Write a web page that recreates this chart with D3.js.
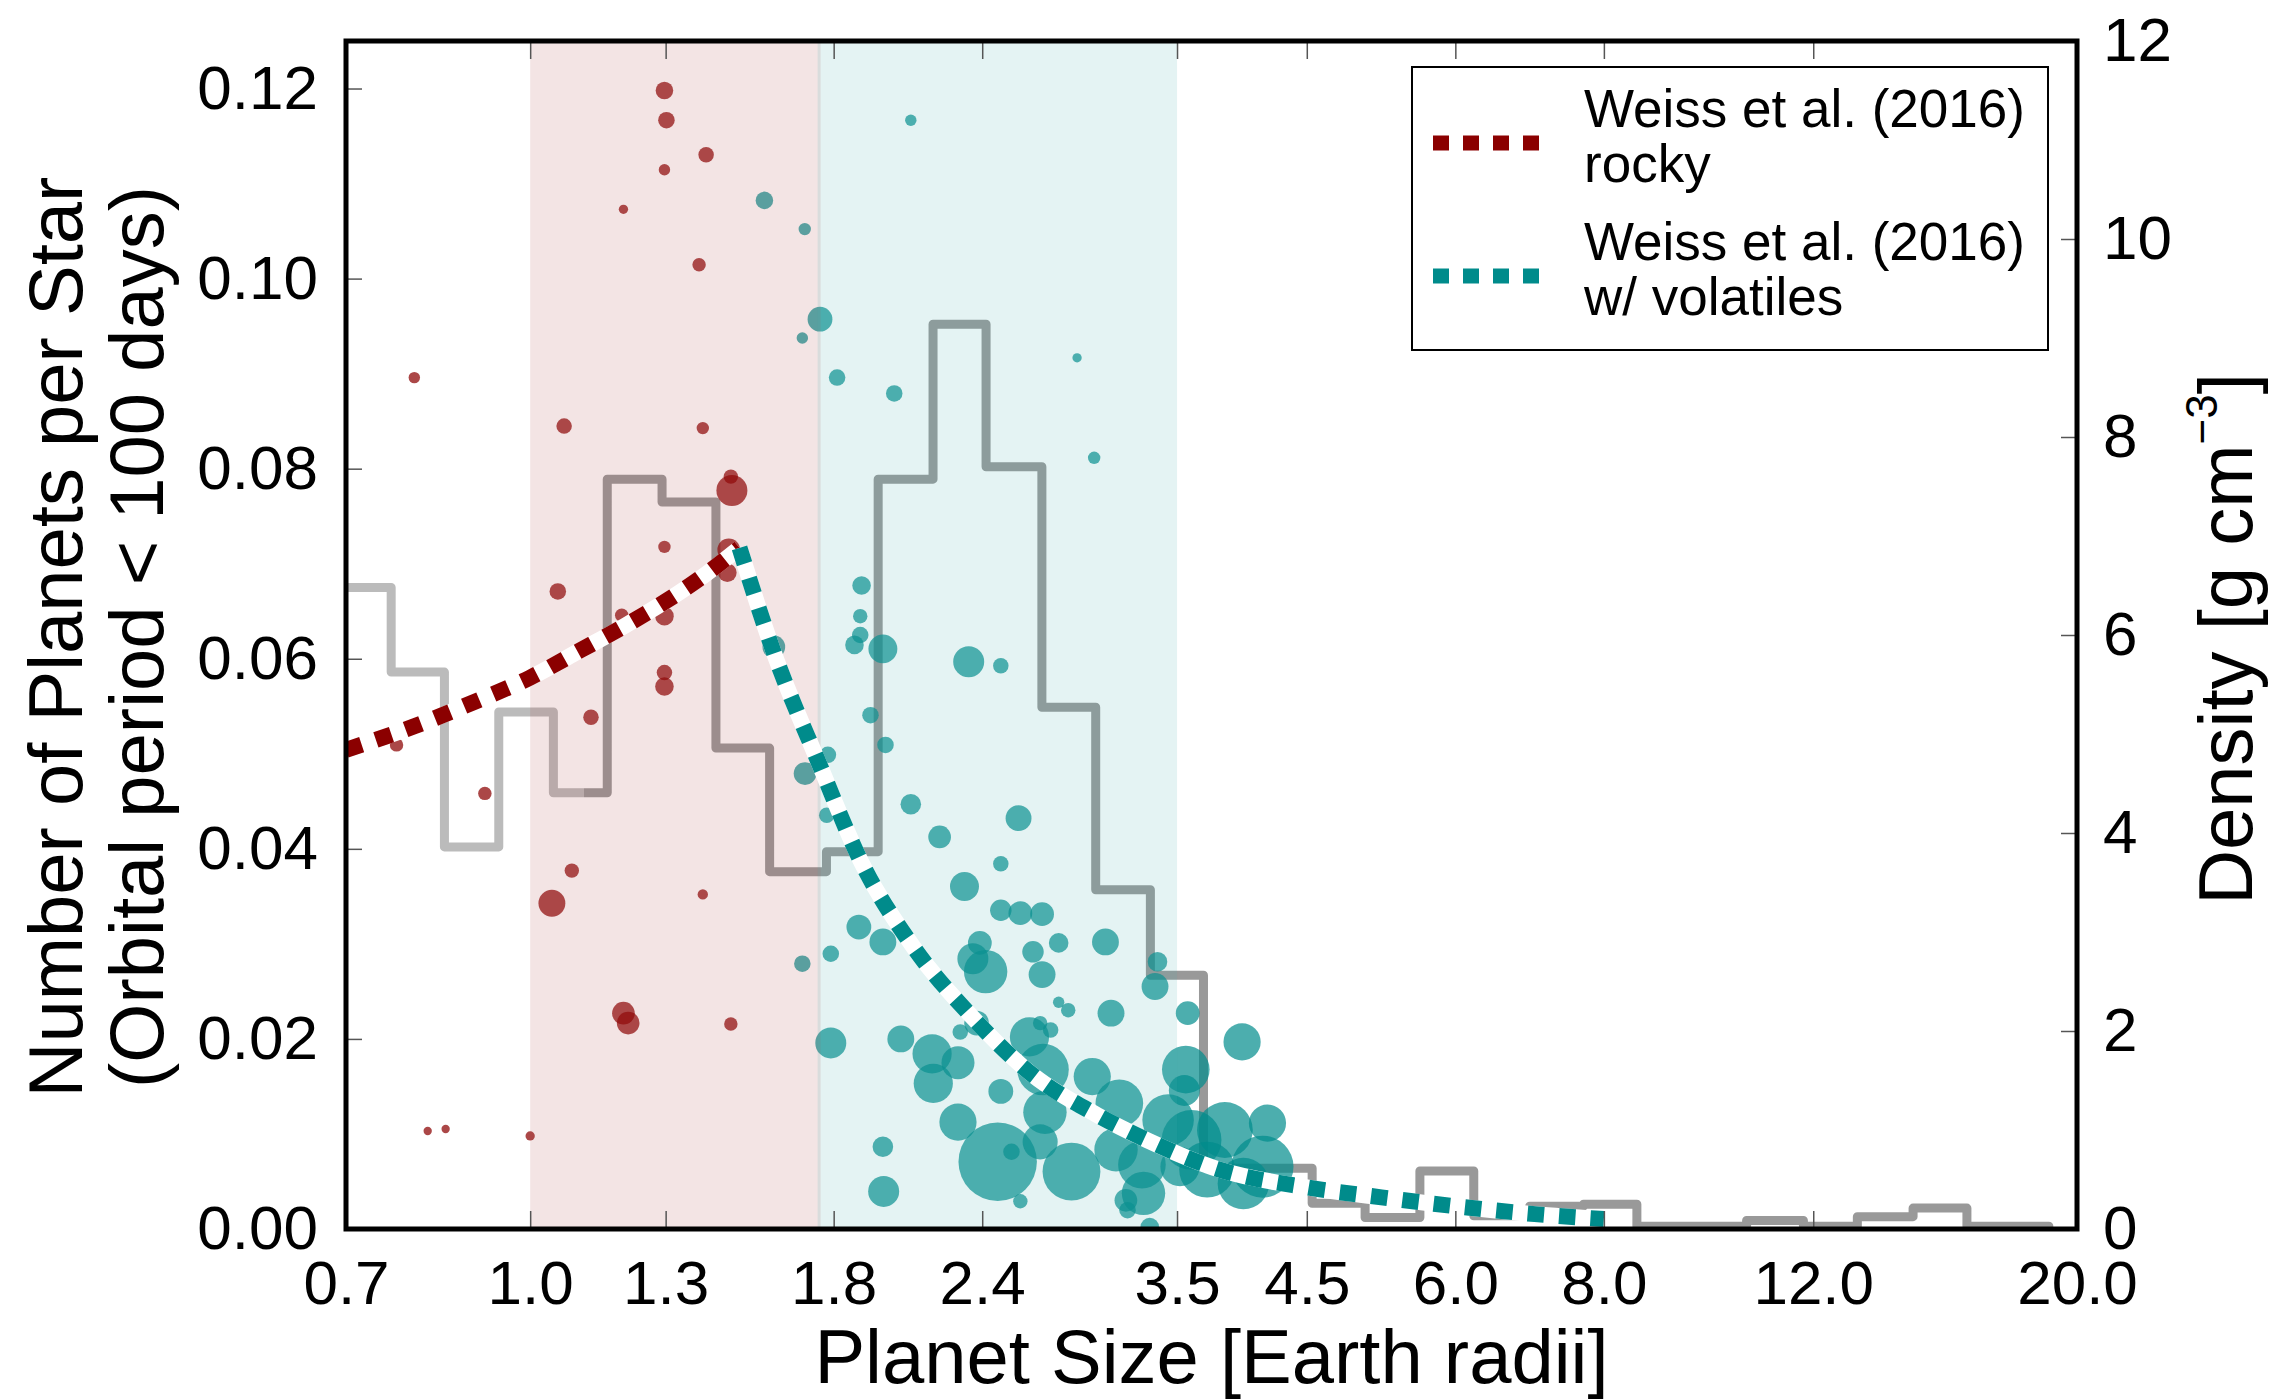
<!DOCTYPE html>
<html>
<head>
<meta charset="utf-8">
<script src="https://cdn.jsdelivr.net/npm/d3@7"></script>
<style>
  body { margin: 0; background: #fff; }
  text { font-family: "Liberation Sans", Arial, Helvetica, sans-serif; }
</style>
</head>
<body>
<div id="chart"></div>
<script>
// ---- data ----
var xTicks = [0.7, 1.0, 1.3, 1.8, 2.4, 3.5, 4.5, 6.0, 8.0, 12.0, 20.0];
var rateTicks = [0, 0.02, 0.04, 0.06, 0.08, 0.10, 0.12];
var densityTicks = [0, 2, 4, 6, 8, 10, 12];

// occurrence histogram (planets per star), bin edges in Earth radii
var binEdges = [0.7, 0.764, 0.847, 0.941, 1.046, 1.161, 1.291, 1.433, 1.590, 1.775, 1.962,
                2.182, 2.418, 2.694, 2.990, 3.324, 3.684, 4.089, 4.547, 5.038, 5.602,
                6.218, 6.929, 7.691, 8.528, 9.466, 10.547, 11.774, 13.07, 14.56, 16.16, 17.94, 18.94];
var binRates = [0.0675, 0.0586, 0.0402, 0.0544, 0.0459, 0.0789, 0.0765, 0.0506, 0.0376, 0.0397,
                0.0789, 0.0952, 0.0802, 0.0549, 0.0357, 0.0267, 0.0064, 0.0064, 0.0027, 0.0012,
                0.0061, 0.0014, 0.0024, 0.0026, 0.0003, 0.0003, 0.0009, 0.0003, 0.0013, 0.0022,
                0.0003, 0.0003];
var faintBelow = 1.11;

// Weiss et al. (2016) density relations [g cm^-3]
var rockyRadius  = [0.70, 0.80, 0.90, 1.00, 1.10, 1.20, 1.30, 1.40, 1.50];
var rockyDensity = [4.84, 5.08, 5.33, 5.57, 5.84, 6.09, 6.34, 6.60, 6.88];
var volRadius  = [1.50, 1.60, 1.75, 1.90, 2.10, 2.35, 2.65, 3.00, 3.30, 3.80, 4.50, 5.20, 6.00, 7.00, 8.00];
var volDensity = [6.88, 5.85, 4.70, 3.70, 2.85, 2.15, 1.55, 1.15, 0.90, 0.60, 0.42, 0.32, 0.23, 0.15, 0.10];

// shaded size ranges
var rockyBand = [1.0, 1.755];
var volatileBand = [1.745, 3.5];

// planets: [radius, density, weight]
var rockyPlanets = [
  [1.297, 11.50, 8], [1.302, 11.20, 7.1], [1.406, 10.85, 6.25], [1.297, 10.70, 3.4],
  [1.198, 10.30, 2.25], [1.387, 9.74, 4.7], [0.799, 8.60, 3.4], [1.068, 8.11, 6.25],
  [1.397, 8.09, 4], [1.475, 7.60, 5.4], [1.478, 7.46, 25], [1.297, 6.89, 4],
  [1.469, 6.86, 13.4], [1.465, 6.63, 9], [1.055, 6.44, 7.1], [1.194, 6.20, 4.7],
  [1.297, 6.19, 9], [1.297, 5.62, 6.25], [1.297, 5.48, 9], [1.125, 5.17, 6.25],
  [0.772, 4.89, 4.7], [0.916, 4.40, 4.7], [1.084, 3.62, 5.4], [1.043, 3.29, 18.8],
  [1.397, 3.38, 2.8], [1.198, 2.18, 13.4], [1.209, 2.08, 13.4], [1.475, 2.07, 4.7],
  [0.820, 0.99, 1.8], [0.849, 1.01, 1.8], [1.000, 0.94, 2.25]
];
var volatilePlanets = [
  [1.574, 10.39, 8], [1.702, 10.10, 4], [1.753, 9.19, 16], [1.694, 9.00, 3.4],
  [1.812, 8.60, 7.1], [2.024, 8.44, 7.1], [2.090, 11.20, 3.4], [2.884, 8.80, 2.25],
  [1.603, 5.88, 13.4], [1.703, 4.60, 13.4], [1.780, 4.79, 7.1], [1.776, 4.18, 6.25],
  [1.900, 6.50, 9], [1.895, 6.19, 5.4], [1.895, 6.00, 7.1], [1.874, 5.90, 9],
  [1.980, 5.86, 21.8], [1.933, 5.19, 7.1], [1.990, 4.89, 7.1], [2.338, 5.73, 25],
  [2.488, 5.69, 6.25], [2.981, 7.79, 4], [2.090, 4.29, 11], [2.210, 3.96, 13.4],
  [2.575, 4.15, 17.4], [2.488, 3.69, 6.25], [1.694, 2.68, 7.1], [1.790, 2.78, 7.1],
  [1.890, 3.05, 16], [1.980, 2.90, 18.8], [1.790, 1.88, 25], [1.980, 0.83, 11],
  [1.983, 0.38, 25], [2.319, 3.46, 21.8], [2.488, 3.22, 12], [2.584, 3.19, 14.7],
  [2.695, 3.18, 14.7], [3.047, 2.90, 18.8], [2.783, 2.89, 10], [2.648, 2.80, 12],
  [2.389, 2.89, 14.7], [2.357, 2.73, 25], [2.416, 2.60, 49], [2.695, 2.57, 18.8],
  [3.370, 2.70, 10], [3.354, 2.45, 18.8], [3.573, 2.18, 14.7], [3.080, 2.18, 18.8],
  [2.783, 2.29, 3.4], [2.835, 2.21, 5.4], [3.970, 1.89, 36], [3.560, 1.61, 59],
  [2.050, 1.92, 18.8], [2.178, 1.77, 40], [2.290, 1.68, 28.4], [2.183, 1.47, 40],
  [2.374, 2.08, 16], [2.300, 1.99, 6.25], [2.630, 1.94, 40], [2.685, 2.08, 5.4],
  [2.740, 2.01, 6.25], [2.700, 1.61, 69], [2.488, 1.39, 16], [2.970, 1.54, 36],
  [2.710, 1.18, 49], [2.290, 1.08, 36], [2.473, 0.68, 160], [2.540, 0.78, 7.1],
  [2.685, 0.88, 32], [2.853, 0.58, 87], [2.584, 0.28, 5.4], [3.130, 1.27, 59],
  [3.110, 0.80, 49], [3.270, 0.65, 59], [3.280, 0.36, 49], [3.170, 0.29, 13.4],
  [3.180, 0.19, 7.1], [3.320, 0.02, 9], [3.440, 1.10, 69], [3.550, 1.40, 25],
  [3.520, 0.63, 40], [3.600, 0.90, 93], [3.840, 1.00, 81], [4.170, 1.07, 36],
  [4.130, 0.63, 100], [3.980, 0.46, 69], [3.710, 0.60, 81]
];

// ---- layout ----
var width = 2290, height = 1399;
var plotL = 346, plotR = 2077, plotT = 41, plotB = 1229;
var fontFamily = "Liberation Sans, Arial, Helvetica, sans-serif";
var red = "#8b0000", teal = "#008b8b";

var svg = d3.select("#chart").append("svg")
    .attr("width", width)
    .attr("height", height);

var x = d3.scaleLog().domain([0.7, 20]).range([plotL, plotR]);
var yRate = d3.scaleLinear().domain([0, 0.125]).range([plotB, plotT]);
var yDens = d3.scaleLinear().domain([0, 12]).range([plotB, plotT]);
var size = d3.scaleSqrt().domain([0, 100]).range([0, 31]);

var defs = svg.append("defs");
defs.append("clipPath").attr("id", "plot").append("rect")
    .attr("x", plotL).attr("y", plotT).attr("width", plotR - plotL).attr("height", plotB - plotT);
defs.append("clipPath").attr("id", "faint").append("rect")
    .attr("x", 0).attr("y", 0).attr("width", x(faintBelow)).attr("height", height);
defs.append("clipPath").attr("id", "solid").append("rect")
    .attr("x", x(faintBelow)).attr("y", 0).attr("width", width).attr("height", height);

var g = svg.append("g").attr("clip-path", "url(#plot)");

// histogram
var histPts = binRates.map(function(v, i) { return [binEdges[i], v]; });
histPts.push([binEdges[binEdges.length - 1], binRates[binRates.length - 1]]);
var histLine = d3.line()
    .x(function(d) { return x(d[0]); })
    .y(function(d) { return yRate(d[1]); })
    .curve(d3.curveStepAfter);

g.append("path").datum(histPts)
    .attr("d", histLine)
    .attr("clip-path", "url(#faint)")
    .attr("fill", "none").attr("stroke", "#bbbbbb")
    .attr("stroke-width", 9).attr("stroke-linejoin", "round").attr("stroke-linecap", "round");
g.append("path").datum(histPts)
    .attr("d", histLine)
    .attr("clip-path", "url(#solid)")
    .attr("fill", "none").attr("stroke", "#999999")
    .attr("stroke-width", 9).attr("stroke-linejoin", "round").attr("stroke-linecap", "round");

// planets
g.selectAll("circle.rocky").data(rockyPlanets).enter()
    .append("circle").attr("class", "rocky")
    .attr("cx", function(d) { return x(d[0]); })
    .attr("cy", function(d) { return yDens(d[1]); })
    .attr("r", function(d) { return size(d[2]); })
    .attr("fill", red).attr("fill-opacity", 0.72);
g.selectAll("circle.vol").data(volatilePlanets).enter()
    .append("circle").attr("class", "vol")
    .attr("cx", function(d) { return x(d[0]); })
    .attr("cy", function(d) { return yDens(d[1]); })
    .attr("r", function(d) { return size(d[2]); })
    .attr("fill", teal).attr("fill-opacity", 0.7);

// shaded bands
g.append("rect")
    .attr("x", x(rockyBand[0])).attr("y", plotT)
    .attr("width", x(rockyBand[1]) - x(rockyBand[0])).attr("height", plotB - plotT)
    .attr("fill", "rgb(175,75,75)").attr("fill-opacity", 0.15);
g.append("rect")
    .attr("x", x(volatileBand[0])).attr("y", plotT)
    .attr("width", x(volatileBand[1]) - x(volatileBand[0])).attr("height", plotB - plotT)
    .attr("fill", "rgb(75,175,175)").attr("fill-opacity", 0.15);

// density relations
var densLine = d3.line()
    .x(function(d) { return x(d[0]); })
    .y(function(d) { return yDens(d[1]); })
    .curve(d3.curveMonotoneX);
var rockyCurve = rockyRadius.map(function(r, i) { return [r, rockyDensity[i]]; });
var volCurve = volRadius.map(function(r, i) { return [r, volDensity[i]]; });

function dotted(data, color) {
  g.append("path").datum(data).attr("d", densLine)
      .attr("fill", "none").attr("stroke", "#fff").attr("stroke-width", 16);
  g.append("path").datum(data).attr("d", densLine)
      .attr("fill", "none").attr("stroke", color).attr("stroke-width", 16)
      .attr("stroke-dasharray", "16.5 15");
}
dotted(rockyCurve, red);
dotted(volCurve, teal);

// legend
var lg = svg.append("g");
lg.append("rect")
    .attr("x", 1412).attr("y", 67).attr("width", 636).attr("height", 283)
    .attr("fill", "#fff").attr("stroke", "#000").attr("stroke-width", 2);
var legendItems = [
  {color: red, lines: ["Weiss et al. (2016)", "rocky"], y: 143, base: 127},
  {color: teal, lines: ["Weiss et al. (2016)", "w/ volatiles"], y: 276, base: 260}
];
legendItems.forEach(function(it) {
  lg.append("line")
      .attr("x1", 1433).attr("x2", 1541).attr("y1", it.y).attr("y2", it.y)
      .attr("stroke", it.color).attr("stroke-width", 15).attr("stroke-dasharray", "16 14");
  it.lines.forEach(function(t, j) {
    lg.append("text")
        .attr("x", 1584).attr("y", it.base + j * 55)
        .attr("font-size", 53).attr("fill", "#000")
        .text(t);
  });
});

// axes
function styleAxis(sel) {
  sel.attr("font-size", 62).attr("font-family", fontFamily);
  sel.select(".domain").remove();
  sel.selectAll("line").attr("stroke", "#555").attr("stroke-width", 1.5);
  sel.selectAll("text").attr("fill", "#000");
}
svg.append("g").attr("transform", "translate(0," + plotB + ")")
    .call(d3.axisBottom(x).tickValues(xTicks).tickFormat(d3.format(".1f"))
        .tickSizeInner(-18).tickSizeOuter(0).tickPadding(31))
    .call(styleAxis);
svg.append("g").attr("transform", "translate(0," + plotT + ")")
    .call(d3.axisTop(x).tickValues(xTicks).tickFormat("")
        .tickSizeInner(-18).tickSizeOuter(0))
    .call(styleAxis);
svg.append("g").attr("transform", "translate(" + plotL + ",0)")
    .call(d3.axisLeft(yRate).tickValues(rateTicks).tickFormat(d3.format(".2f"))
        .tickSizeInner(-16).tickSizeOuter(0).tickPadding(28))
    .call(styleAxis);
svg.append("g").attr("transform", "translate(" + plotR + ",0)")
    .call(d3.axisRight(yDens).tickValues(densityTicks).tickFormat(d3.format("d"))
        .tickSizeInner(-16).tickSizeOuter(0).tickPadding(26))
    .call(styleAxis);

// frame
svg.append("rect")
    .attr("x", plotL).attr("y", plotT).attr("width", plotR - plotL).attr("height", plotB - plotT)
    .attr("fill", "none").attr("stroke", "#000").attr("stroke-width", 5);

// axis titles
svg.append("text")
    .attr("x", (plotL + plotR) / 2).attr("y", 1383)
    .attr("text-anchor", "middle").attr("font-size", 76)
    .text("Planet Size [Earth radii]");
svg.append("text")
    .attr("transform", "translate(82,637) rotate(-90)")
    .attr("text-anchor", "middle").attr("font-size", 76)
    .text("Number of Planets per Star");
svg.append("text")
    .attr("transform", "translate(163,637) rotate(-90)")
    .attr("text-anchor", "middle").attr("font-size", 76)
    .text("(Orbital period < 100 days)");
var densLabel = svg.append("text")
    .attr("transform", "translate(2252,639) rotate(-90)")
    .attr("text-anchor", "middle").attr("font-size", 76);
densLabel.append("tspan").text("Density [g cm");
densLabel.append("tspan").attr("dy", -35).attr("font-size", 44).text("\u22123");
densLabel.append("tspan").attr("dy", 35).text("]");
</script>
</body>
</html>
